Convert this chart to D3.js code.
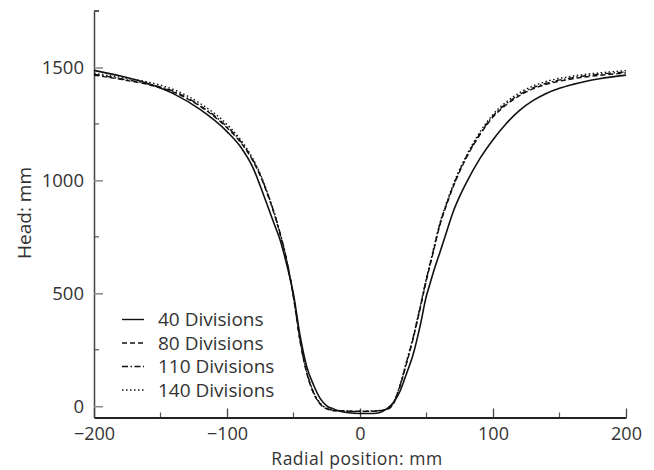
<!DOCTYPE html>
<html>
<head>
<meta charset="utf-8">
<script src="https://cdn.jsdelivr.net/npm/d3@7"></script>
<style>
  body { margin: 0; background: #fff; }
  svg text { font-family: "Open Sans", sans-serif; fill: #333; }
</style>
</head>
<body>
<div id="chart"></div>
<script>
// Radial position (mm) and head (mm)
const xs40 = [-200, -180, -160, -140, -120, -100, -90, -80, -75, -70, -65, -60, -55, -50, -45, -40, -35, -30, -25, -20, -15, -10, 0, 10, 15, 20, 25, 30, 35, 40, 45, 50, 52, 55, 60, 65, 70, 75, 80, 90, 100, 110, 120, 130, 140, 150, 160, 180, 200];
const div40 = [1487, 1462, 1430, 1383, 1313, 1216, 1150, 1050, 975, 895, 815, 735, 625, 495, 310, 174, 95, 35, 2, -12, -22, -28, -32, -32, -28, -12, 15, 65, 145, 230, 350, 490, 530, 590, 680, 770, 860, 930, 990, 1095, 1180, 1252, 1310, 1353, 1385, 1408, 1425, 1450, 1466];

const xsFine = [-200, -180, -160, -140, -120, -100, -90, -80, -75, -70, -65, -60, -55, -50, -45, -40, -35, -30, -25, -20, -10, 0, 10, 20, 25, 30, 35, 40, 45, 50, 55, 60, 65, 70, 75, 80, 90, 100, 110, 120, 130, 140, 160, 180, 200];
const div80 = [1466, 1447, 1425, 1390, 1327, 1233, 1170, 1080, 1020, 945, 860, 760, 640, 480, 285, 145, 58, 10, -12, -20, -22, -22, -22, -15, 10, 86, 190, 300, 426, 559, 680, 800, 890, 970, 1040, 1100, 1200, 1280, 1335, 1375, 1405, 1425, 1450, 1465, 1476];
const div110 = [1470, 1450, 1428, 1394, 1330, 1238, 1175, 1085, 1025, 950, 865, 765, 645, 485, 290, 150, 62, 12, -10, -18, -22, -24, -22, -14, 12, 90, 195, 305, 432, 565, 685, 805, 895, 975, 1045, 1105, 1205, 1285, 1340, 1380, 1410, 1430, 1455, 1470, 1480];
const div140 = [1474, 1456, 1436, 1402, 1340, 1248, 1182, 1090, 1028, 952, 866, 766, 646, 487, 292, 152, 64, 14, -9, -17, -21, -22, -21, -13, 14, 92, 198, 308, 436, 570, 690, 810, 900, 980, 1050, 1110, 1212, 1292, 1348, 1388, 1418, 1438, 1462, 1476, 1486];

const seriesNames = ["40 Divisions", "80 Divisions", "110 Divisions", "140 Divisions"];
const xTicks = [-200, -100, 0, 100, 200];
const xMinor = [-150, -50, 50, 150];
const yTicks = [0, 500, 1000, 1500];
const yMinor = [250, 750, 1250, 1750];

const width = 654, height = 470;
const dashes = [null, "5,3", "6,2.5,1.5,2.5", "1.5,2.5"];

const svg = d3.select("#chart").append("svg")
    .attr("width", width).attr("height", height);

const x = d3.scaleLinear().domain([-200, 200]).range([94, 626]);
const y = d3.scaleLinear().domain([-50, 1750]).range([417.5, 11]);

// minor ticks
svg.append("g").selectAll("line.ym").data(yMinor).join("line")
    .attr("x1", x(-200)).attr("x2", x(-200) + 5)
    .attr("y1", d => y(d)).attr("y2", d => y(d))
    .attr("stroke", "#555").attr("stroke-width", 1.2);
svg.append("g").selectAll("line.xm").data(xMinor).join("line")
    .attr("x1", d => x(d)).attr("x2", d => x(d))
    .attr("y1", y(-50)).attr("y2", y(-50) - 5)
    .attr("stroke", "#555").attr("stroke-width", 1.2);

// axes with inward ticks
const yAxis = svg.append("g")
    .attr("transform", `translate(${x(-200)},0)`)
    .call(d3.axisLeft(y).tickValues(yTicks).tickSizeInner(-9).tickSizeOuter(0).tickPadding(10).tickFormat(d3.format("d")));
yAxis.select(".domain").attr("stroke", "#444").attr("stroke-width", 1.5);
yAxis.selectAll(".tick line").attr("stroke", "#888").attr("stroke-width", 1.5);

const xAxis = svg.append("g")
    .attr("transform", `translate(0,${y(-50)})`)
    .call(d3.axisBottom(x).tickValues(xTicks).tickSizeInner(-9).tickSizeOuter(0).tickPadding(10)
        .tickFormat(d => d < 0 ? "\u2212" + Math.abs(d) : d));
xAxis.select(".domain").attr("stroke", "#222").attr("stroke-width", 2);
xAxis.selectAll(".tick line").attr("stroke", "#444").attr("stroke-width", 1.3);

svg.selectAll(".tick text").style("font-size", "18.5px").attr("fill", "#333");
xAxis.selectAll(".tick text").style("font-size", "18px");

// y axis top cap
svg.append("line")
    .attr("x1", x(-200)).attr("x2", x(-200) + 5)
    .attr("y1", y(1750)).attr("y2", y(1750))
    .attr("stroke", "#444").attr("stroke-width", 1.5);

// titles
svg.append("text")
    .attr("x", 357).attr("y", 465)
    .attr("text-anchor", "middle")
    .style("font-size", "17.5px")
    .style("letter-spacing", "0.5px")
    .text("Radial position: mm");
svg.append("text")
    .attr("transform", "translate(31,213) rotate(-90)")
    .attr("text-anchor", "middle")
    .style("font-size", "19px")
    .text("Head: mm");

// curves
const line = d3.line()
    .x(d => x(d[0])).y(d => y(d[1]))
    .curve(d3.curveMonotoneX);

const series = [
  d3.zip(xs40, div40),
  d3.zip(xsFine, div80),
  d3.zip(xsFine, div110),
  d3.zip(xsFine, div140)
];

svg.append("g").selectAll("path").data(series).join("path")
    .attr("d", line)
    .attr("fill", "none")
    .attr("stroke", "#111")
    .attr("stroke-width", (d, i) => i === 0 ? 1.6 : 1.4)
    .attr("stroke-dasharray", (d, i) => dashes[i]);

// legend
const legend = svg.append("g").selectAll("g").data(seriesNames).join("g")
    .attr("transform", (d, i) => `translate(122,${319.5 + i * 23.5})`);
legend.append("line")
    .attr("x1", 0).attr("x2", 22)
    .attr("stroke", "#111").attr("stroke-width", 1.4)
    .attr("stroke-dasharray", (d, i) => dashes[i]);
legend.append("text")
    .attr("x", 36).attr("dy", "0.35em")
    .style("font-size", "19px")
    .text(d => d);
</script>
</body>
</html>
